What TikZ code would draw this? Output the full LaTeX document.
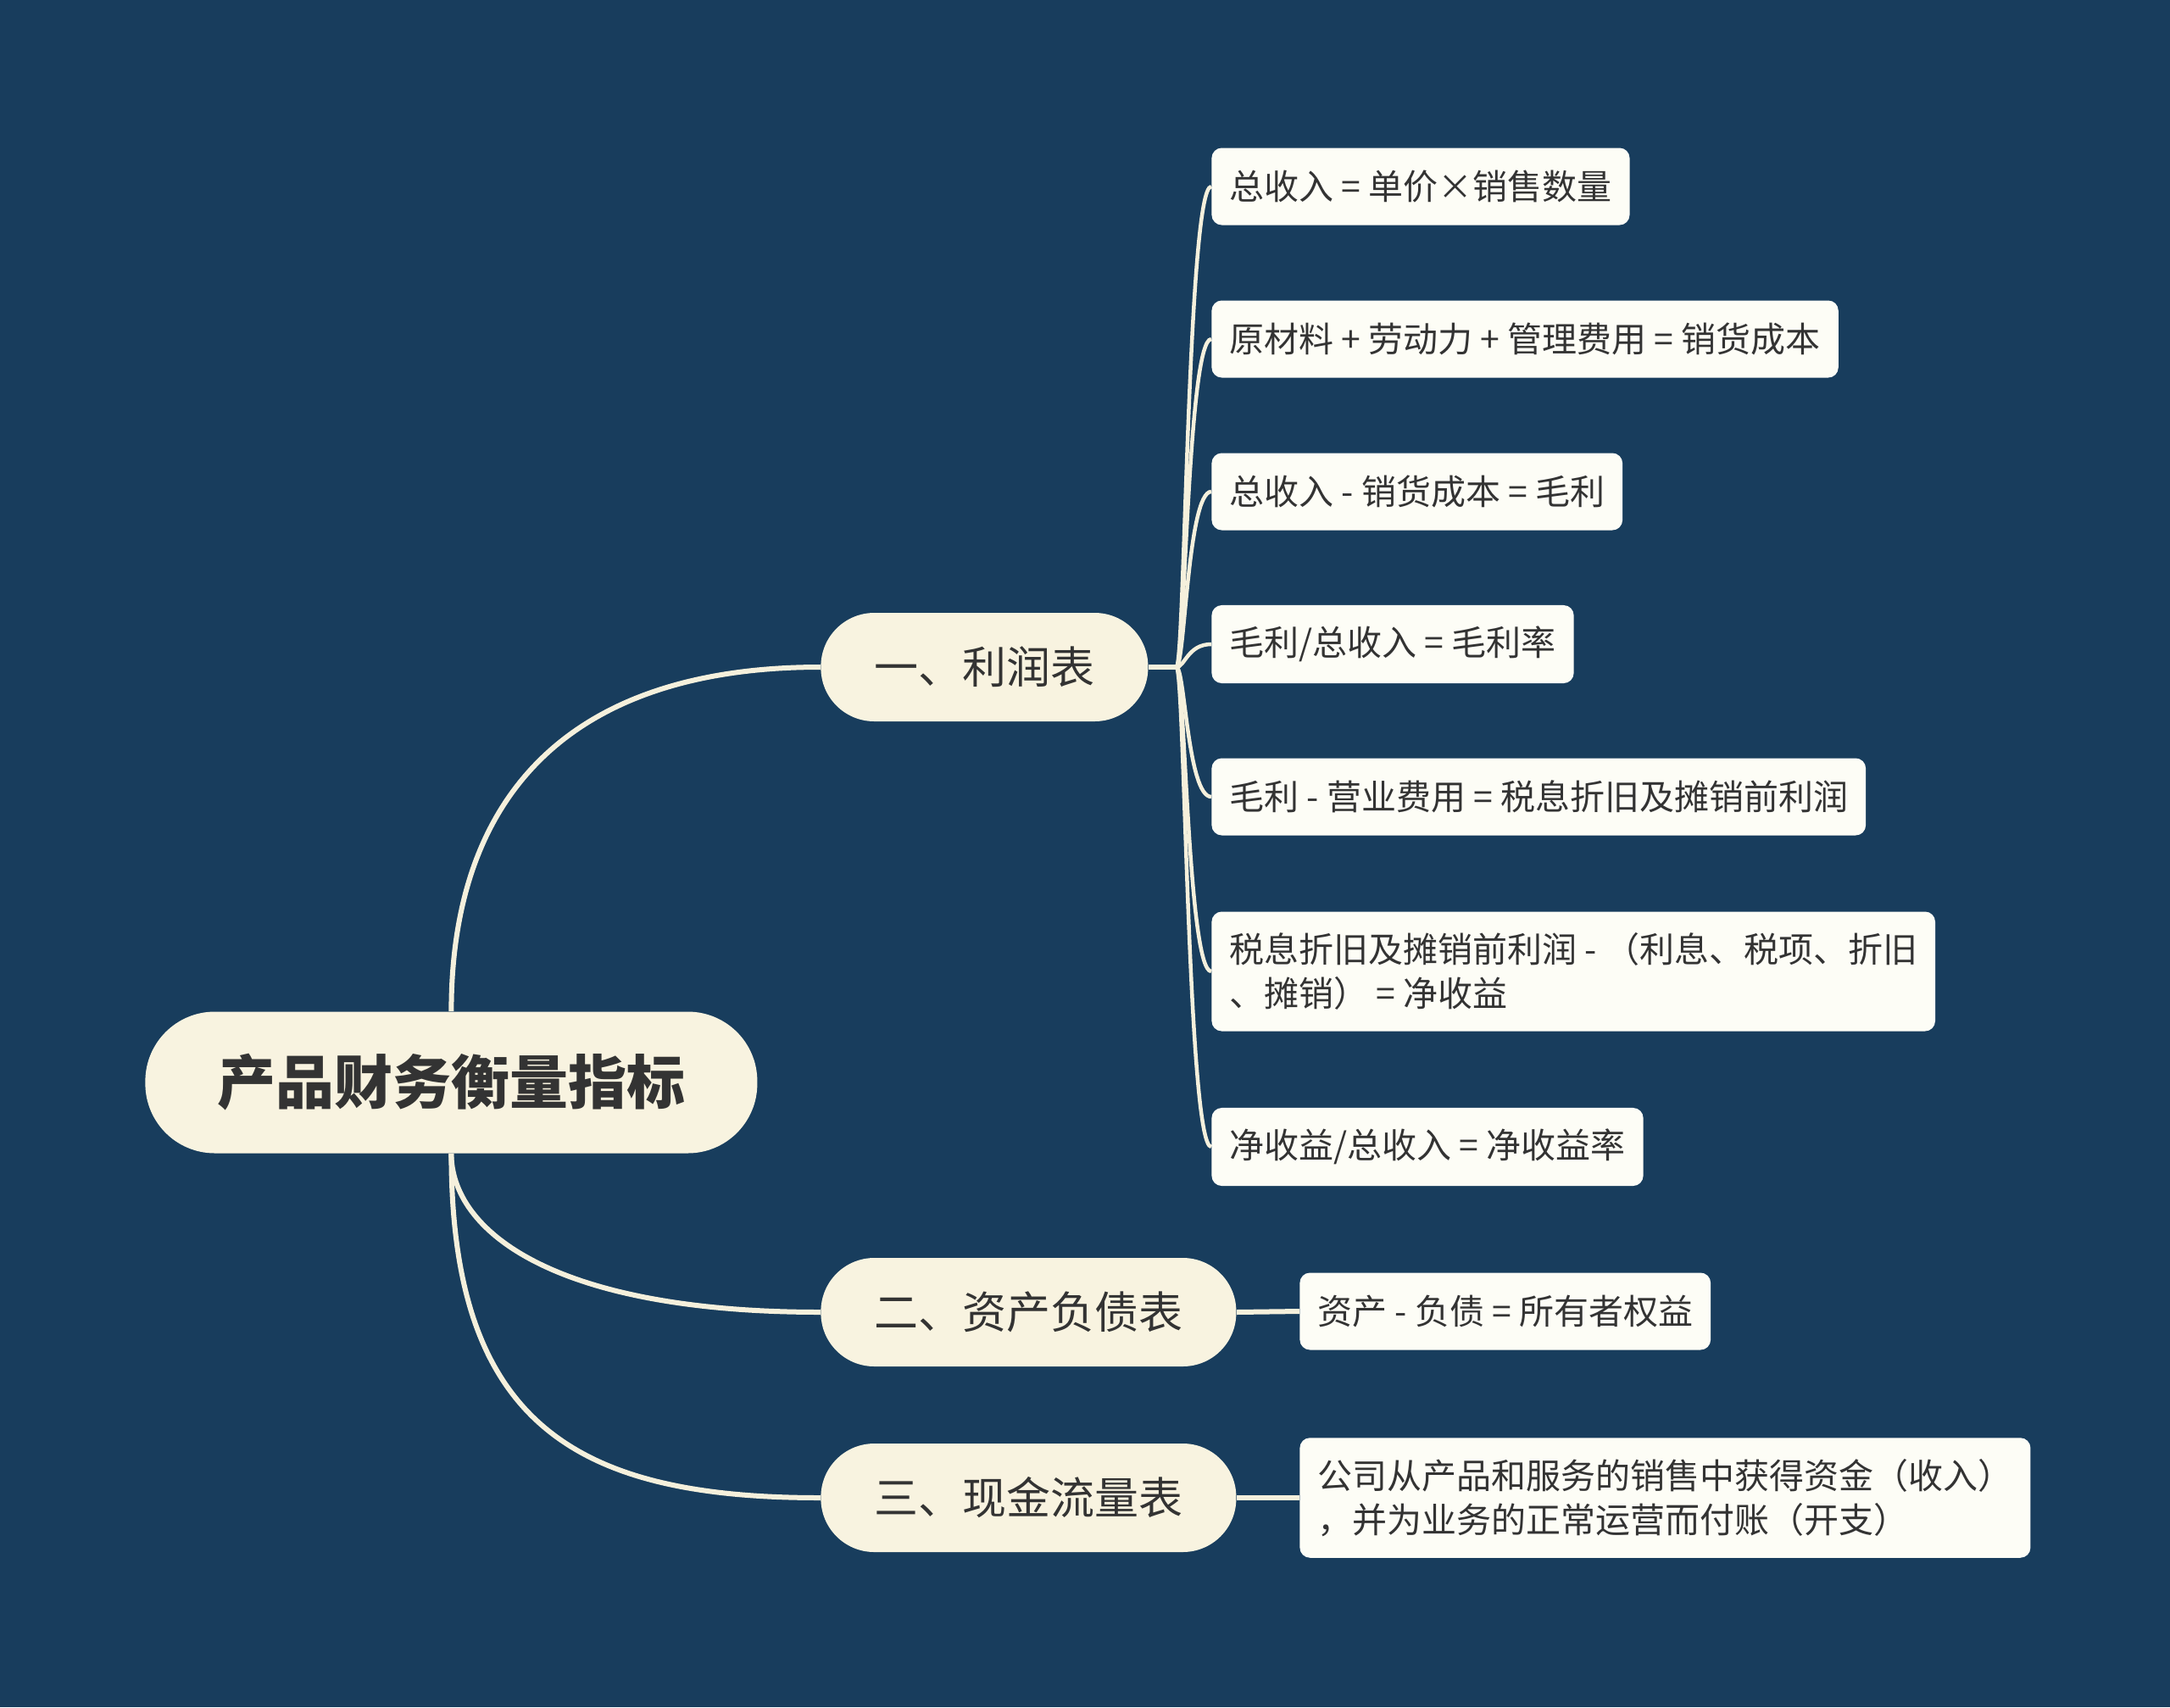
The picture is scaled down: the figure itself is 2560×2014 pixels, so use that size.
\documentclass[tikz,border=0pt]{standalone}
\usepackage{fontspec}
\setmainfont{Noto Sans CJK SC}
\usetikzlibrary{calc,backgrounds}
\definecolor{bg}{HTML}{183D5D}
\definecolor{linec}{HTML}{F5F0DC}
\definecolor{lonefill}{HTML}{F8F3E0}
\definecolor{ltwofill}{HTML}{FDFDF6}
\definecolor{txt}{HTML}{333333}
\begin{document}
\begin{tikzpicture}[x=0.5pt,y=-0.5pt,
  conn/.style={draw=linec, line width=3pt},
  thinconn/.style={draw=linec, line width=2.25pt},
  rootbox/.style={fill=lonefill, rounded corners=41pt, minimum height=83.5pt, inner xsep=42.5pt, font=\fontsize{34.5pt}{40pt}\selectfont\bfseries, text=txt, anchor=west},
  topicbox/.style={fill=lonefill, rounded corners=31.5pt, minimum height=64pt, inner xsep=31.5pt, font=\fontsize{26pt}{30pt}\selectfont, text=txt, anchor=west},
  leafbox/.style={fill=ltwofill, rounded corners=6pt, inner xsep=10.5pt, inner ysep=12.5pt, minimum height=45.5pt, align=left, font=\fontsize{20.5pt}{26pt}\selectfont, text=txt, anchor=west}]
\useasboundingbox (0,0) rectangle (2560,2014);

\node[rootbox] (root) at (171,1277) {产品财务衡量指标};
\node[topicbox] (t1) at (968,787) {一、利润表};
\node[topicbox] (t2) at (968,1548) {二、资产负债表};
\node[topicbox] (t3) at (968,1767) {三、现金流量表};

\node[leafbox] (c1) at (1429,220) {总收入 = 单价×销售数量};
\node[leafbox] (c2) at (1429,400) {原材料 + 劳动力 + 管理费用 = 销货成本};
\node[leafbox] (c3) at (1429,580) {总收入 - 销货成本 = 毛利};
\node[leafbox] (c4) at (1429,760) {毛利/总收入 = 毛利率};
\node[leafbox] (c5) at (1429,940) {毛利 - 营业费用 = 税息折旧及摊销前利润};
\node[leafbox] (c6) at (1429,1146) {税息折旧及摊销前利润 - （利息、税项、折旧\\、摊销） = 净收益};
\node[leafbox] (c7) at (1429,1353) {净收益/总收入 = 净收益率};
\node[leafbox] (c8) at (1533,1547) {资产 - 负债 = 所有者权益};
\node[leafbox] (c9) at (1533,1767) {公司从产品和服务的销售中获得资金（收入）\\，并为业务的正常运营而付账（开支）};

\coordinate (j1) at ($(t1.east)+(33,0)$);

\begin{scope}[on background layer]
\fill[bg] (0,0) rectangle (2560,2014);
\draw[conn] (root.north) .. controls ($(root.north)+(0,-243)$) and ($(t1.west)+(-308,0)$) .. (t1.west);
\draw[conn] (root.south) .. controls ($(root.south)+(0,90)$) and ($(t2.west)+(-318,0)$) .. (t2.west);
\draw[conn] (root.south) .. controls ($(root.south)+(0,320)$) and ($(t3.west)+(-288,0)$) .. (t3.west);
\draw[conn] (t1.east) -- (j1);
\foreach \c in {c1,c2,c3,c4,c5,c6,c7}{
  \draw[thinconn] (j1) .. controls ($(j1)+(10,0)$) and ($(\c.west)+(-28,0)$) .. (\c.west);
}
\draw[conn] (t2.east) -- (c8.west);
\draw[conn] (t3.east) -- (c9.west);
\end{scope}
\end{tikzpicture}
\end{document}
